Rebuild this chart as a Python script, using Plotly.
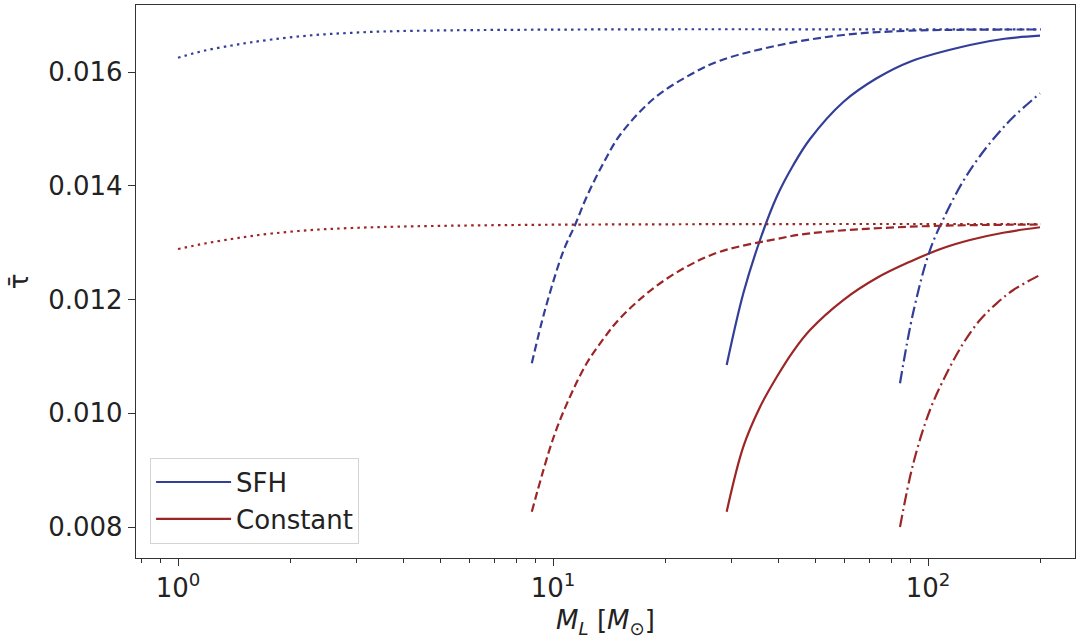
import plotly.graph_objects as go

# Mean optical depth vs. lens mass for two star-formation models
BLUE = "#323e98"
RED = "#9c2626"

# SFH model
sfh_dot_x = [1.0, 1.18, 1.39, 1.556, 1.778, 2.094, 2.466, 2.906, 3.528, 5.313, 10, 20, 50, 200]
sfh_dot_y = [0.016251, 0.016378, 0.016466, 0.016519, 0.016571, 0.016624, 0.016663, 0.016689,
             0.016712, 0.016733, 0.016745, 0.016751, 0.016751, 0.016751]

sfh_dash_x = [8.78, 9.52, 10.65, 11.45, 12.30, 13.62, 15.09, 18.51, 22.73, 27.88, 40.31, 59.45, 89.54, 198.9]
sfh_dash_y = [0.010878, 0.011815, 0.012847, 0.01331, 0.013807, 0.014395, 0.014892, 0.015525,
              0.015917, 0.016199, 0.016475, 0.016651, 0.016726, 0.016747]

sfh_solid_x = [29.05, 32.18, 35.65, 39.50, 43.74, 48.46, 59.45, 72.97, 89.54, 129.4, 159.96, 198.9]
sfh_solid_y = [0.010848, 0.012109, 0.013046, 0.013807, 0.014365, 0.014822, 0.015473, 0.015889,
               0.016181, 0.016475, 0.016584, 0.016638]

sfh_dashdot_x = [84.20, 91.38, 101.23, 112.18, 124.19, 137.6, 152.5, 168.9, 198.9]
sfh_dashdot_y = [0.010527, 0.01178, 0.01287, 0.013538, 0.014084, 0.014523, 0.014892, 0.015209, 0.015625]

# Constant model
con_dot_x = [1.0, 1.18, 1.39, 1.556, 1.778, 2.094, 2.466, 2.906, 3.528, 5.313, 10, 20, 50, 200]
con_dot_y = [0.012888, 0.012985, 0.013064, 0.013113, 0.01316, 0.013204, 0.013236, 0.013257,
             0.013275, 0.013297, 0.013315, 0.013322, 0.013327, 0.013327]

con_dash_x = [8.78, 10.02, 11.10, 12.30, 13.62, 15.09, 18.51, 22.73, 27.88, 40.31, 48.46, 89.54, 198.9]
con_dash_y = [0.008269, 0.009565, 0.010291, 0.010878, 0.011305, 0.01167, 0.012197, 0.012577,
              0.01284, 0.013076, 0.013164, 0.01328, 0.013319]

con_solid_x = [29.05, 32.18, 35.65, 39.50, 43.74, 48.46, 59.45, 72.97, 89.54, 109.86, 129.4, 159.96, 198.9]
con_solid_y = [0.008269, 0.009412, 0.01011, 0.010637, 0.011094, 0.011464, 0.011991, 0.012378,
               0.012665, 0.012906, 0.013046, 0.013178, 0.01327]

con_dashdot_x = [84.20, 91.38, 101.23, 112.18, 124.19, 137.6, 152.5, 168.9, 198.9]
con_dashdot_y = [0.0080, 0.00912, 0.010057, 0.010703, 0.01123, 0.01164, 0.011933, 0.012167, 0.012431]

x_tick_vals = [1, 10, 100]
x_tick_text = ["10<sup>0</sup>", "10<sup>1</sup>", "10<sup>2</sup>"]
x_minor_vals = [0.8, 0.9] + [m * 10 ** e for e in range(0, 2) for m in range(2, 10)] + [200]
y_tick_vals = [0.008, 0.010, 0.012, 0.014, 0.016]

DOT = "2.5px,4.2px"
DASH = "8px,4px"
DASHDOT = "12px,4px,2px,4px"
LW = 2.2

fig = go.Figure()


def add(x, y, color, dash, name=None):
    fig.add_trace(go.Scatter(
        x=x, y=y, mode="lines",
        line=dict(color=color, width=LW, dash=dash, shape="spline", smoothing=1.0),
        name=name if name else "",
        showlegend=name is not None,
        hoverinfo="skip",
    ))


add(sfh_solid_x, sfh_solid_y, BLUE, "solid", "SFH")
add(con_solid_x, con_solid_y, RED, "solid", "Constant")
add(sfh_dot_x, sfh_dot_y, BLUE, DOT)
add(sfh_dash_x, sfh_dash_y, BLUE, DASH)
add(sfh_dashdot_x, sfh_dashdot_y, BLUE, DASHDOT)
add(con_dot_x, con_dot_y, RED, DOT)
add(con_dash_x, con_dash_y, RED, DASH)
add(con_dashdot_x, con_dashdot_y, RED, DASHDOT)

FONT = "DejaVu Sans"
TXT = "#222222"
AX = "#333333"

fig.update_layout(
    width=1078, height=641,
    margin=dict(l=136, r=3, t=5, b=83),
    paper_bgcolor="white", plot_bgcolor="white",
    font=dict(family=FONT, size=26, color=TXT),
    legend=dict(
        x=0.015, y=0.026, xanchor="left", yanchor="bottom",
        bgcolor="white", bordercolor="#d4d4d4", borderwidth=1,
        font=dict(size=26, color=TXT), tracegroupgap=0, itemwidth=75,
    ),
    xaxis=dict(
        type="log", range=[-0.112, 2.392],
        tickvals=x_tick_vals, ticktext=x_tick_text,
        ticks="outside", ticklen=7, tickwidth=1.2, tickcolor=AX,
        showgrid=False, zeroline=False,
        showline=True, linecolor=AX, linewidth=1.3, mirror=True,
        minor=dict(tickvals=x_minor_vals, ticks="outside", ticklen=4, tickwidth=1,
                   tickcolor=AX, showgrid=False),
        title=dict(text="<i>M<sub>L</sub></i> [<i>M</i><sub>⊙</sub>]", standoff=8, font=dict(size=26)),
    ),
    yaxis=dict(
        range=[0.007455, 0.017178],
        tickvals=y_tick_vals, tickformat=".3f",
        ticks="outside", ticklen=7, tickwidth=1.2, tickcolor=AX,
        showgrid=False, zeroline=False,
        showline=True, linecolor=AX, linewidth=1.3, mirror=True,
        title=dict(text="τ̄", standoff=12, font=dict(size=26)),
    ),
)

fig.write_html("out.html")
